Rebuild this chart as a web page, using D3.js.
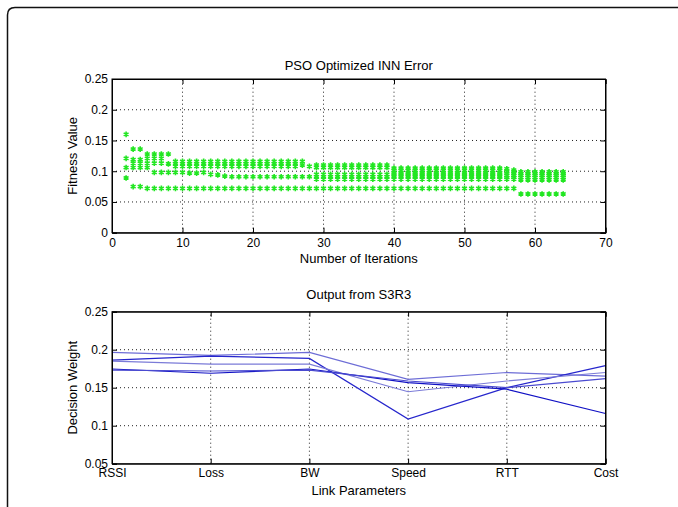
<!DOCTYPE html>
<html>
<head>
<meta charset="utf-8">
<script src="https://cdn.jsdelivr.net/npm/d3@7"></script>
<style>
  body { margin: 0; background: #fff; }
  svg text { font-family: "Liberation Sans", Arial, sans-serif; fill: #000; }
</style>
</head>
<body>
<script>
// ---- data: top panel (fitness of each particle per iteration) ----
const iterations = [2, 3, 4, 5, 6, 7, 8, 9, 10, 11, 12, 13, 14, 15, 16, 17, 18, 19, 20,
  21, 22, 23, 24, 25, 26, 27, 28, 29, 30, 31, 32, 33, 34, 35, 36, 37, 38, 39, 40,
  41, 42, 43, 44, 45, 46, 47, 48, 49, 50, 51, 52, 53, 54, 55, 56, 57, 58, 59, 60,
  61, 62, 63, 64];

const fitness = [
  [0.160, 0.121, 0.106, 0.089],
  [0.136, 0.119, 0.113, 0.106, 0.075],
  [0.136, 0.119, 0.113, 0.106, 0.075],
  [0.128, 0.121, 0.113, 0.106, 0.072],
  [0.128, 0.121, 0.113, 0.098, 0.072],
  [0.128, 0.121, 0.113, 0.098, 0.072],
  [0.128, 0.112, 0.098, 0.072],
  [0.116, 0.112, 0.108, 0.098, 0.072],
  [0.116, 0.112, 0.108, 0.098, 0.072],
  [0.116, 0.112, 0.108, 0.097, 0.072],
  [0.116, 0.112, 0.108, 0.097, 0.072],
  [0.116, 0.112, 0.108, 0.098, 0.072],
  [0.116, 0.112, 0.108, 0.095, 0.072],
  [0.116, 0.112, 0.108, 0.094, 0.072],
  [0.116, 0.112, 0.108, 0.092, 0.072],
  [0.116, 0.112, 0.108, 0.091, 0.072],
  [0.116, 0.112, 0.108, 0.091, 0.072],
  [0.116, 0.112, 0.108, 0.091, 0.072],
  [0.116, 0.112, 0.108, 0.091, 0.072],
  [0.116, 0.112, 0.108, 0.091, 0.072],
  [0.116, 0.112, 0.108, 0.091, 0.072],
  [0.116, 0.112, 0.108, 0.091, 0.072],
  [0.116, 0.112, 0.108, 0.091, 0.072],
  [0.116, 0.112, 0.108, 0.091, 0.072],
  [0.116, 0.112, 0.108, 0.091, 0.072],
  [0.116, 0.110, 0.091, 0.072],
  [0.108, 0.091, 0.072],
  [0.110, 0.106, 0.095, 0.091, 0.087, 0.072],
  [0.110, 0.106, 0.095, 0.091, 0.087, 0.072],
  [0.110, 0.106, 0.095, 0.091, 0.087, 0.072],
  [0.110, 0.106, 0.095, 0.091, 0.087, 0.072],
  [0.110, 0.106, 0.095, 0.091, 0.087, 0.072],
  [0.110, 0.106, 0.095, 0.091, 0.087, 0.072],
  [0.110, 0.106, 0.095, 0.091, 0.087, 0.072],
  [0.110, 0.106, 0.095, 0.091, 0.087, 0.072],
  [0.110, 0.106, 0.095, 0.091, 0.087, 0.072],
  [0.110, 0.106, 0.095, 0.091, 0.087, 0.072],
  [0.110, 0.106, 0.095, 0.091, 0.087, 0.072],
  [0.105, 0.101, 0.097, 0.094, 0.091, 0.087, 0.072],
  [0.105, 0.101, 0.097, 0.094, 0.091, 0.087, 0.072],
  [0.105, 0.101, 0.097, 0.094, 0.091, 0.087, 0.072],
  [0.105, 0.101, 0.097, 0.094, 0.091, 0.087, 0.072],
  [0.105, 0.101, 0.097, 0.094, 0.091, 0.087, 0.072],
  [0.105, 0.101, 0.097, 0.094, 0.091, 0.087, 0.072],
  [0.105, 0.101, 0.097, 0.094, 0.091, 0.087, 0.072],
  [0.105, 0.101, 0.097, 0.094, 0.091, 0.087, 0.072],
  [0.105, 0.101, 0.097, 0.094, 0.091, 0.087, 0.072],
  [0.105, 0.101, 0.097, 0.094, 0.091, 0.087, 0.072],
  [0.105, 0.101, 0.097, 0.094, 0.091, 0.087, 0.072],
  [0.105, 0.101, 0.097, 0.094, 0.091, 0.087, 0.072],
  [0.105, 0.101, 0.097, 0.094, 0.091, 0.087, 0.072],
  [0.105, 0.101, 0.097, 0.094, 0.091, 0.087, 0.072],
  [0.105, 0.101, 0.097, 0.094, 0.091, 0.087, 0.072],
  [0.105, 0.101, 0.097, 0.094, 0.091, 0.087, 0.072],
  [0.104, 0.100, 0.097, 0.093, 0.090, 0.087, 0.072],
  [0.102, 0.099, 0.096, 0.093, 0.090, 0.087, 0.072],
  [0.099, 0.096, 0.093, 0.090, 0.086, 0.063],
  [0.099, 0.096, 0.093, 0.090, 0.086, 0.063],
  [0.099, 0.096, 0.093, 0.090, 0.086, 0.063],
  [0.099, 0.096, 0.093, 0.090, 0.086, 0.063],
  [0.099, 0.096, 0.093, 0.090, 0.086, 0.063],
  [0.099, 0.096, 0.093, 0.090, 0.086, 0.063],
  [0.099, 0.096, 0.093, 0.090, 0.086, 0.063]
];

const xTicksTop = [0, 10, 20, 30, 40, 50, 60, 70];
const yTicksTop = [0, 0.05, 0.1, 0.15, 0.2, 0.25];

// ---- data: bottom panel (decision weight per link parameter) ----
const params = ["RSSI", "Loss", "BW", "Speed", "RTT", "Cost"];
const weightRuns = [
  [0.1965, 0.1925, 0.1965, 0.1610, 0.1700, 0.1653],
  [0.1864, 0.1915, 0.1886, 0.1088, 0.1500, 0.1790],
  [0.1850, 0.1810, 0.1810, 0.1447, 0.1588, 0.1700],
  [0.1746, 0.1690, 0.1746, 0.1566, 0.1480, 0.1160],
  [0.1730, 0.1720, 0.1730, 0.1588, 0.1500, 0.1620]
];
const runColors = ["#6d6dd6", "#2626cc", "#7b7bd8", "#1010c4", "#4a4ad0"];
const yTicksBottom = [0.05, 0.1, 0.15, 0.2, 0.25];

const W = 678, H = 507;

const svg = d3.select("body")
  .append("svg")
  .attr("width", W)
  .attr("height", H);

// outer frame (rounded top-left corner, runs off the page)
svg.append("path")
  .attr("d", "M7.5,507 L7.5,15 Q7.5,7.5 15,7.5 L678,7.5")
  .attr("fill", "none")
  .attr("stroke", "#111")
  .attr("stroke-width", 1.5);

function drawGrid(g, x, y, xGridVals, yGridVals) {
  const [x0, x1] = x.range();
  const [y0, y1] = y.range(); // y0 bottom, y1 top

  g.selectAll(".gx")
    .data(xGridVals)
    .enter()
    .append("line")
    .attr("x1", (d) => x(d)).attr("x2", (d) => x(d))
    .attr("y1", y0).attr("y2", y1)
    .attr("stroke", "#222")
    .attr("stroke-width", 1)
    .attr("stroke-dasharray", "1,3");

  g.selectAll(".gy")
    .data(yGridVals)
    .enter()
    .append("line")
    .attr("x1", x0).attr("x2", x1)
    .attr("y1", (d) => y(d)).attr("y2", (d) => y(d))
    .attr("stroke", "#222")
    .attr("stroke-width", 1)
    .attr("stroke-dasharray", "1,3");
}

function drawAxes(g, x, y, xAxisBottom, yAxisLeft) {
  const [x0, x1] = x.range();
  const [y0, y1] = y.range();

  // inward ticks, MATLAB style, on all four sides
  g.append("g").attr("transform", `translate(0,${y0})`).call(xAxisBottom);
  g.append("g").attr("transform", `translate(${x0},0)`).call(yAxisLeft);

  g.append("g").attr("transform", `translate(0,${y1})`)
    .call(d3.axisTop(x).tickValues(xAxisBottom.tickValues()).tickSize(-5).tickFormat(""));
  g.append("g").attr("transform", `translate(${x1},0)`)
    .call(d3.axisRight(y).tickValues(yAxisLeft.tickValues()).tickSize(-5).tickFormat(""));

  g.selectAll(".domain").attr("stroke", "#000");
  g.selectAll(".tick line").attr("stroke", "#000");
  g.selectAll(".tick text")
    .style("font-family", '"Liberation Sans", Arial, sans-serif')
    .style("font-size", "12px")
    .attr("fill", "#000");

  g.append("rect")
    .attr("x", x0).attr("y", y1)
    .attr("width", x1 - x0).attr("height", y0 - y1)
    .attr("fill", "none")
    .attr("stroke", "#000")
    .attr("stroke-width", 1);
}

const fmtTick = (d) => String(+d.toFixed(2));

// ================= top panel =================
const topBox = { left: 112, right: 605.5, top: 79, bottom: 232.7 };

const xTop = d3.scaleLinear().domain([0, 70]).range([topBox.left, topBox.right]);
const yTop = d3.scaleLinear().domain([0, 0.25]).range([topBox.bottom, topBox.top]);

const gTop = svg.append("g");
drawGrid(gTop, xTop, yTop, xTicksTop.slice(1, -1), yTicksTop.slice(1, -1));

// scatter points
const points = [];
iterations.forEach((it, i) => {
  fitness[i].forEach((v) => points.push({ it: it, v: v }));
});

const star = d3.symbol().type(d3.symbolAsterisk).size(22);
gTop.selectAll(".pt")
  .data(points)
  .enter()
  .append("path")
  .attr("d", star)
  .attr("transform", (d) => `translate(${xTop(d.it)},${yTop(d.v)})`)
  .attr("fill", "none")
  .attr("stroke", "#22e622")
  .attr("stroke-width", 1.6);

drawAxes(gTop, xTop, yTop,
  d3.axisBottom(xTop).tickValues(xTicksTop).tickSize(-5).tickPadding(6).tickFormat(d3.format("d")),
  d3.axisLeft(yTop).tickValues(yTicksTop).tickSize(-5).tickPadding(4).tickFormat(fmtTick)
);

gTop.append("text")
  .attr("x", (topBox.left + topBox.right) / 2)
  .attr("y", 70)
  .attr("text-anchor", "middle")
  .style("font-size", "13px")
  .text("PSO Optimized INN Error");

gTop.append("text")
  .attr("x", (topBox.left + topBox.right) / 2)
  .attr("y", 263)
  .attr("text-anchor", "middle")
  .style("font-size", "13px")
  .text("Number of Iterations");

gTop.append("text")
  .attr("transform", `translate(77,${(topBox.top + topBox.bottom) / 2}) rotate(-90)`)
  .attr("text-anchor", "middle")
  .style("font-size", "13px")
  .text("Fitness Value");

// ================= bottom panel =================
const botBox = { left: 112, right: 605.5, top: 311.7, bottom: 463.7 };

const xBot = d3.scalePoint().domain(params).range([botBox.left, botBox.right]);
const yBot = d3.scaleLinear().domain([0.05, 0.25]).range([botBox.bottom, botBox.top]);

const gBot = svg.append("g");
drawGrid(gBot, xBot, yBot, params.slice(1, -1), yTicksBottom.slice(1, -1));

const line = d3.line()
  .x((d, i) => xBot(params[i]))
  .y((d) => yBot(d));

gBot.selectAll(".run")
  .data(weightRuns)
  .enter()
  .append("path")
  .attr("d", line)
  .attr("fill", "none")
  .attr("stroke", (d, i) => runColors[i])
  .attr("stroke-width", 1.2);

drawAxes(gBot, xBot, yBot,
  d3.axisBottom(xBot).tickValues(params).tickSize(-5).tickPadding(5),
  d3.axisLeft(yBot).tickValues(yTicksBottom).tickSize(-5).tickPadding(4).tickFormat(fmtTick)
);

gBot.append("text")
  .attr("x", (botBox.left + botBox.right) / 2)
  .attr("y", 299)
  .attr("text-anchor", "middle")
  .style("font-size", "13px")
  .text("Output from S3R3");

gBot.append("text")
  .attr("x", (botBox.left + botBox.right) / 2)
  .attr("y", 495)
  .attr("text-anchor", "middle")
  .style("font-size", "13px")
  .text("Link Parameters");

gBot.append("text")
  .attr("transform", `translate(77,${(botBox.top + botBox.bottom) / 2}) rotate(-90)`)
  .attr("text-anchor", "middle")
  .style("font-size", "13px")
  .text("Decision Weight");
</script>
</body>
</html>
